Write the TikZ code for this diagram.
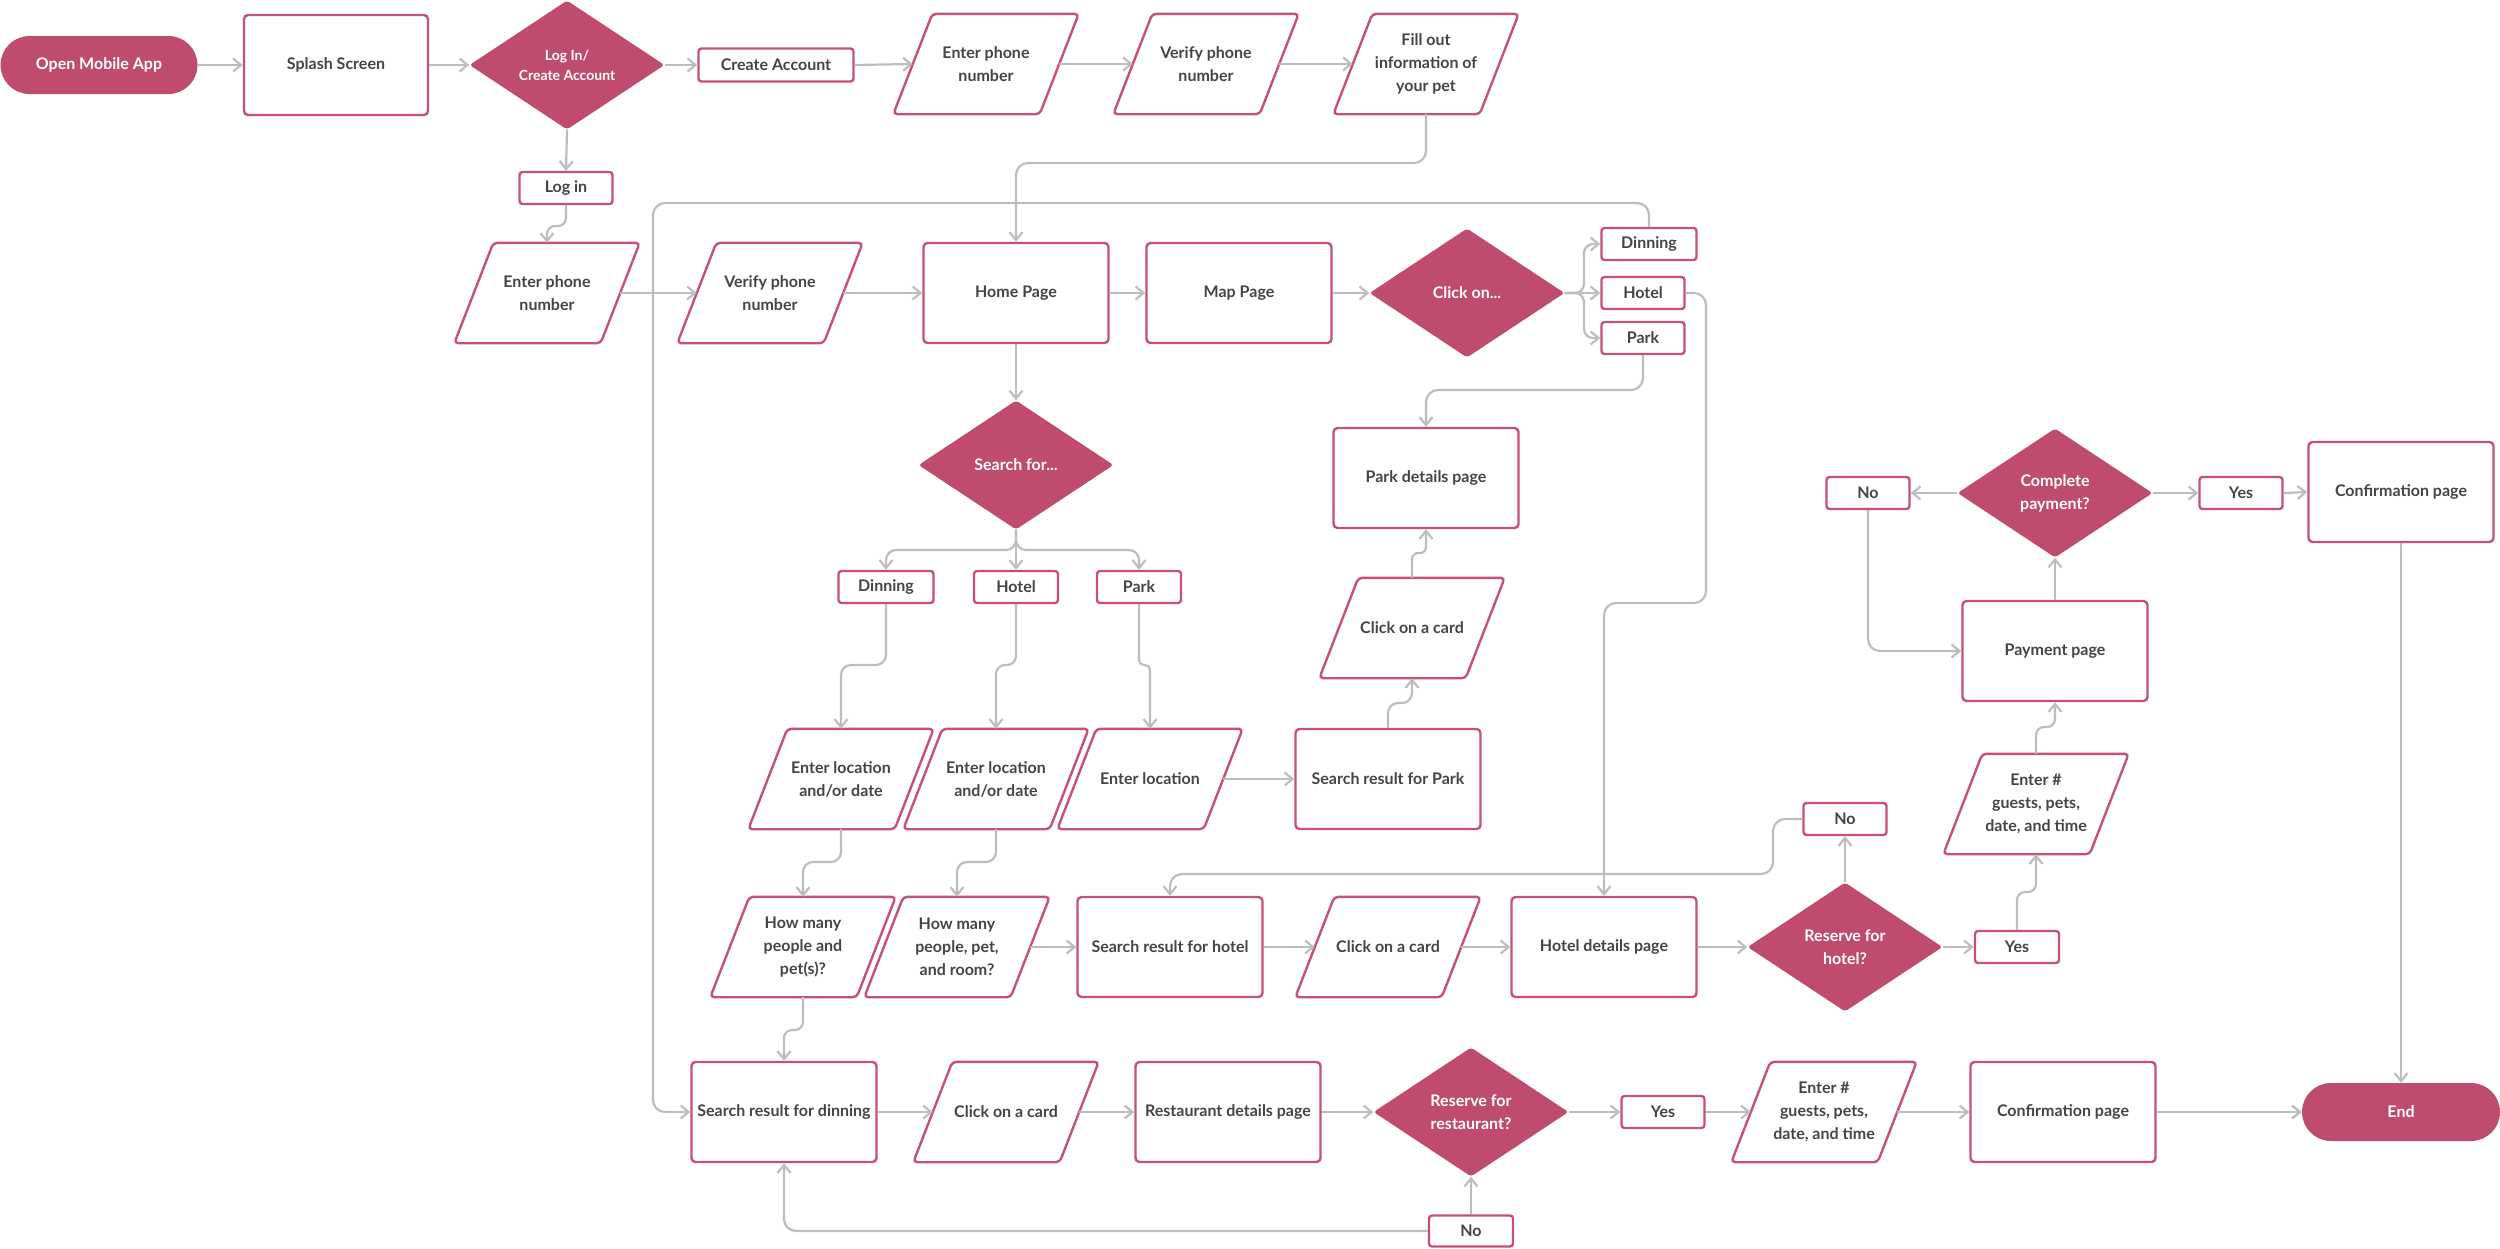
\documentclass[tikz,border=0pt]{standalone}
\usepackage{fontspec}
\setmainfont{Lato}
\usetikzlibrary{shapes.geometric,arrows.meta}
\definecolor{pk}{HTML}{BF4B6E}
\definecolor{pkb}{HTML}{C45274}
\definecolor{ln}{HTML}{BDBDBD}
\definecolor{tx}{HTML}{444444}
\tikzset{
  base/.style={font=\fontsize{16pt}{23pt}\selectfont\bfseries, text=tx, align=center, inner sep=0pt},
  box/.style={base, draw=pkb, line width=2.4pt, rounded corners=4pt, fill=white, minimum width=185pt, minimum height=100pt},
  sbox/.style={base, draw=pkb, line width=2.4pt, rounded corners=3pt, fill=white, minimum height=32pt},
  para/.style={base, minimum width=146pt, minimum height=100pt},
  pborder/.style={draw=pkb, line width=2.4pt, rounded corners=4pt},
  dia/.style={diamond, aspect=1.5, fill=pk, text=white, minimum width=195pt, minimum height=129pt, inner sep=0pt, align=center, rounded corners=3pt, font=\fontsize{16pt}{23pt}\selectfont\bfseries},
  pill/.style={fill=pk, text=white, rounded corners=29pt, minimum width=197pt, minimum height=58pt, inner sep=0pt, font=\fontsize{16pt}{23pt}\selectfont\bfseries},
  conn/.style={draw=ln, line width=2.2pt, rounded corners=12pt, -{Straight Barb[length=8pt,width=13pt]}}
}
\begin{document}
\begin{tikzpicture}[x=1pt,y=-1pt]
\useasboundingbox (0,0) rectangle (2500,1248);
% row 1
\node[pill] (start) at (99,65) {Open Mobile App};
\node[box, minimum width=184pt] (splash) at (336,65) {Splash Screen};
\node[dia, font=\fontsize{14pt}{20pt}\selectfont\bfseries] (login) at (567,65) {Log In/\\Create Account};
\node[sbox, minimum width=155pt, minimum height=33pt] (create) at (776,65) {Create Account};
\node[para] (enter1) at (986,64) {Enter phone\\number};
\node[para] (verify1) at (1206,64) {Verify phone\\number};
\node[para] (fill) at (1426,64) {Fill out\\information of\\your pet};
\node[sbox, minimum width=93pt] (loginbox) at (566,188) {Log in};
% row 2
\node[para] (enter2) at (547,293) {Enter phone\\number};
\node[para] (verify2) at (770,293) {Verify phone\\number};
\node[box] (home) at (1016,293) {Home Page};
\node[box] (map) at (1239,293) {Map Page};
\node[dia] (clickon) at (1467,293) {Click on...};
\node[sbox, minimum width=95pt] (mdin) at (1649,244) {Dinning};
\node[sbox, minimum width=83pt] (mhotel) at (1643,293) {Hotel};
\node[sbox, minimum width=83pt] (mpark) at (1643,338) {Park};
% search
\node[dia] (searchfor) at (1016,465) {Search for...};
\node[sbox, minimum width=95pt] (sdin) at (886,587) {Dinning};
\node[sbox, minimum width=84pt] (shotel) at (1016,587) {Hotel};
\node[sbox, minimum width=84pt] (spark) at (1139,587) {Park};
% row 4
\node[para] (loc1) at (841,779) {Enter location\\and/or date};
\node[para] (loc2) at (996,779) {Enter location\\and/or date};
\node[para] (loc3) at (1150,779) {Enter location};
\node[box] (srpark) at (1388,779) {Search result for Park};
\node[para] (card1) at (1412,628) {Click on a card};
\node[box] (parkdet) at (1426,478) {Park details page};
% row 5
\node[para] (many1) at (803,947) {How many\\people and\\pet(s)?};
\node[para] (many2) at (957,947) {How many\\people, pet,\\and room?};
\node[box] (srhotel) at (1170,947) {Search result for hotel};
\node[para] (card2) at (1388,947) {Click on a card};
\node[box] (hoteldet) at (1604,947) {Hotel details page};
\node[dia] (reshotel) at (1845,947) {Reserve for\\hotel?};
\node[sbox, minimum width=83pt] (hno) at (1845,819) {No};
\node[sbox, minimum width=84pt] (hyes) at (2017,947) {Yes};
\node[para] (henter) at (2036,804) {Enter \#\\guests, pets,\\date, and time};
% payment
\node[box] (payment) at (2055,651) {Payment page};
\node[dia] (comp) at (2055,493) {Complete\\payment?};
\node[sbox, minimum width=83pt] (pno) at (1868,493) {No};
\node[sbox, minimum width=83pt] (pyes) at (2241,493) {Yes};
\node[box] (conf1) at (2401,492) {Confirmation page};
% row 6
\node[box] (srdin) at (784,1112) {Search result for dinning};
\node[para] (card3) at (1006,1112) {Click on a card};
\node[box] (restdet) at (1228,1112) {Restaurant details page};
\node[dia] (resrest) at (1471,1112) {Reserve for\\restaurant?};
\node[sbox, minimum width=84pt, minimum height=31pt] (rno) at (1471,1231) {No};
\node[sbox, minimum width=83pt] (ryes) at (1663,1112) {Yes};
\node[para] (renter) at (1824,1112) {Enter \#\\guests, pets,\\date, and time};
\node[box] (conf2) at (2063,1112) {Confirmation page};
\node[pill, minimum width=198pt] (endn) at (2401,1112) {End};
% parallelogram outlines
\foreach \n in {enter1,verify1,fill,enter2,verify2,loc1,loc2,loc3,card1,many1,many2,card2,henter,card3,renter}
  \draw[pborder] ([xshift=19.5pt]\n.north west) -- ([xshift=19.5pt]\n.north east) -- ([xshift=-19.5pt]\n.south east) -- ([xshift=-19.5pt]\n.south west) -- cycle;
% connectors
\draw[conn] (start.east) -- (splash.west);
\draw[conn] (splash.east) -- (login.west);
\draw[conn] (login.east) -- (create.west);
\draw[conn] (create.east) -- (enter1.west);
\draw[conn] (enter1.east) -- (verify1.west);
\draw[conn] (verify1.east) -- (fill.west);
\draw[conn] (fill.south) -- (1426,163) -- (1016,163) -- (home.north);
\draw[conn] (login.south) -- (loginbox.north);
\draw[conn, rounded corners=8pt] (loginbox.south) -- (566,226) -- (547,226) -- (enter2.north);
\draw[conn] (enter2.east) -- (verify2.west);
\draw[conn] (verify2.east) -- (home.west);
\draw[conn] (home.east) -- (map.west);
\draw[conn] (map.east) -- (clickon.west);
\draw[conn, rounded corners=9pt] (clickon.east) -- (1584,293) -- (1584,244) -- (mdin.west);
\draw[conn] (clickon.east) -- (mhotel.west);
\draw[conn, rounded corners=9pt] (clickon.east) -- (1584,293) -- (1584,338) -- (mpark.west);
\draw[conn] (mdin.north) -- (1649,203) -- (653,203) -- (653,1112) -- (srdin.west);
\draw[conn] (mhotel.east) -- (1706,293) -- (1706,603) -- (1604,603) -- (hoteldet.north);
\draw[conn] (mpark.south) -- (1643,390) -- (1426,390) -- (parkdet.north);
\draw[conn] (home.south) -- (searchfor.north);
\draw[conn, rounded corners=10pt] (searchfor.south) -- (1016,550) -- (886,550) -- (sdin.north);
\draw[conn] (searchfor.south) -- (shotel.north);
\draw[conn, rounded corners=10pt] (searchfor.south) -- (1016,550) -- (1139,550) -- (spark.north);
\draw[conn, rounded corners=10pt] (sdin.south) -- (886,665) -- (841,665) -- (loc1.north);
\draw[conn, rounded corners=9pt] (shotel.south) -- (1016,665) -- (996,665) -- (loc2.north);
\draw[conn, rounded corners=5pt] (spark.south) -- (1139,665) -- (1150,665) -- (loc3.north);
\draw[conn] (loc3.east) -- (srpark.west);
\draw[conn, rounded corners=10pt] (srpark.north) -- (1388,703) -- (1412,703) -- (card1.south);
\draw[conn, rounded corners=6pt] (card1.north) -- (1412,553) -- (1426,553) -- (parkdet.south);
\draw[conn, rounded corners=10pt] (loc1.south) -- (841,862) -- (803,862) -- (many1.north);
\draw[conn, rounded corners=10pt] (loc2.south) -- (996,862) -- (957,862) -- (many2.north);
\draw[conn] (many2.east) -- (srhotel.west);
\draw[conn] (srhotel.east) -- (card2.west);
\draw[conn] (card2.east) -- (hoteldet.west);
\draw[conn] (hoteldet.east) -- (reshotel.west);
\draw[conn] (reshotel.north) -- (hno.south);
\draw[conn] (hno.west) -- (1773,819) -- (1773,874) -- (1170,874) -- (srhotel.north);
\draw[conn] (reshotel.east) -- (hyes.west);
\draw[conn, rounded corners=8pt] (hyes.north) -- (2017,892) -- (2036,892) -- (henter.south);
\draw[conn, rounded corners=8pt] (henter.north) -- (2036,727) -- (2055,727) -- (payment.south);
\draw[conn] (payment.north) -- (comp.south);
\draw[conn] (comp.west) -- (pno.east);
\draw[conn] (pno.south) |- (payment.west);
\draw[conn] (comp.east) -- (pyes.west);
\draw[conn] (pyes.east) -- (conf1.west);
\draw[conn] (conf1.south) -- (endn.north);
\draw[conn, rounded corners=8pt] (many1.south) -- (803,1030) -- (784,1030) -- (srdin.north);
\draw[conn] (srdin.east) -- (card3.west);
\draw[conn] (card3.east) -- (restdet.west);
\draw[conn] (restdet.east) -- (resrest.west);
\draw[conn] (rno.north) -- (resrest.south);
\draw[conn] (rno.west) -| (srdin.south);
\draw[conn] (resrest.east) -- (ryes.west);
\draw[conn] (ryes.east) -- (renter.west);
\draw[conn] (renter.east) -- (conf2.west);
\draw[conn] (conf2.east) -- (endn.west);
\end{tikzpicture}
\end{document}
